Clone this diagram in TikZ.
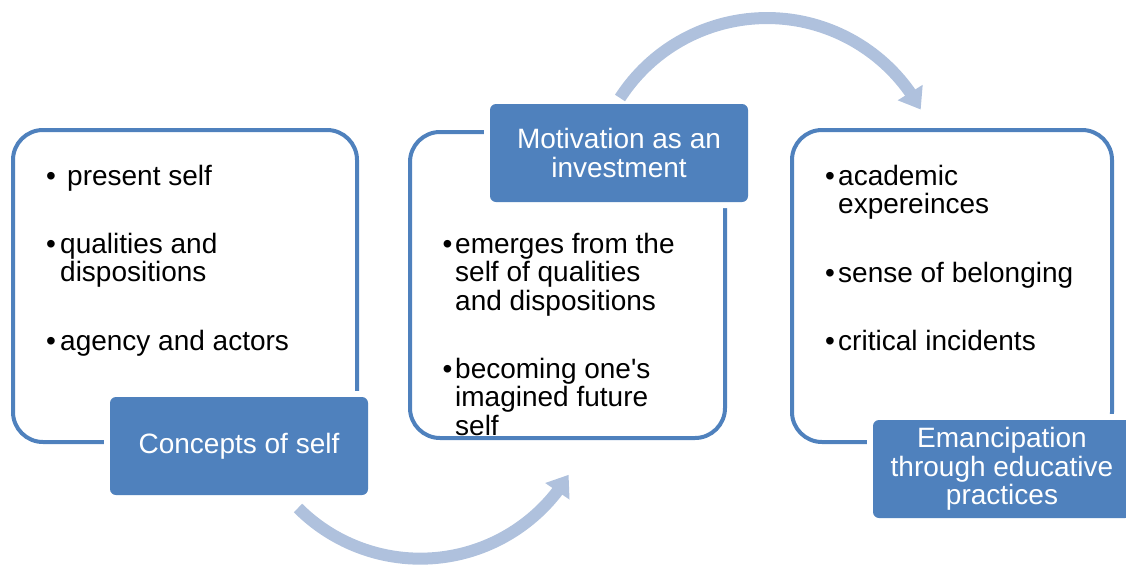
\documentclass[tikz,border=0pt]{standalone}
\usepackage{fontspec}
\setmainfont{Liberation Sans}
\usetikzlibrary{arrows.meta,bending}
\definecolor{acc}{HTML}{4F81BD}
\definecolor{arrc}{HTML}{AFC1DD}
\begin{document}
\begin{tikzpicture}[x=1pt,y=-1pt,
  frame/.style={draw=acc, line width=4pt, rounded corners=30pt, inner sep=0pt},
  lbl/.style={fill=acc, rounded corners=6pt, minimum width=258pt, minimum height=98pt,
    inner sep=0pt, text=white, align=center, font=\fontsize{28}{28.5}\selectfont,
    preaction={draw=white, line width=12pt}},
  itm/.style={anchor=base west, inner sep=0pt, align=left, font=\fontsize{28}{28.5}\selectfont},
  bul/.style={anchor=base west, inner sep=0pt, font=\fontsize{28}{28.5}\selectfont},
  flow/.style={draw=arrc, line width=12pt, -{Triangle[width=28pt,length=20pt]}}]
\useasboundingbox (0,0) rectangle (1126,568);
% frames
\node[frame, minimum width=344pt, minimum height=312pt] (f1) at (185,286) {};
\node[frame, minimum width=315pt, minimum height=306pt] (f2) at (567.5,285) {};
\node[frame, minimum width=320pt, minimum height=312pt] (f3) at (952,286) {};
% labels
\node[lbl] (l1) at (239,446) {Concepts of self};
\node[lbl] (l2) at (619,153) {Motivation as an\\investment};
\node[lbl] (l3) at (1002,469) {Emancipation\\through educative\\practices};
% left items (multi-line nodes are placed by their last baseline)
\node[bul] (b11) at (46,185) {•};
\node[itm] (t11) at (67,185) {present self};
\node[bul] (b12) at (46,253) {•};
\node[itm] (t12) at (60,281.5) {qualities and\\dispositions};
\node[bul] (b13) at (46,350) {•};
\node[itm] (t13) at (60,350) {agency and actors};
% middle items
\node[bul] (b21) at (442.5,253) {•};
\node[itm] (t21) at (455,310) {emerges from the\\self of qualities\\and dispositions};
\node[bul] (b22) at (442.5,378) {•};
\node[itm] (t22) at (455,435) {becoming one\textquotesingle s\\imagined future\\self};
% right items
\node[bul] (b31) at (825,185) {•};
\node[itm] (t31) at (838,213.5) {academic\\expereinces};
\node[bul] (b32) at (825,282) {•};
\node[itm] (t32) at (838,282) {sense of belonging};
\node[bul] (b33) at (825,350) {•};
\node[itm] (t33) at (838,350) {critical incidents};
% arrows
\coordinate (a1s) at (298,508);
\draw[flow] (a1s) arc[start angle=135, end angle=31, radius=173];
\coordinate (a2s) at (620,98);
\draw[flow] (a2s) arc[start angle=212.9, end angle=331.5, radius=175];
\end{tikzpicture}
\end{document}
